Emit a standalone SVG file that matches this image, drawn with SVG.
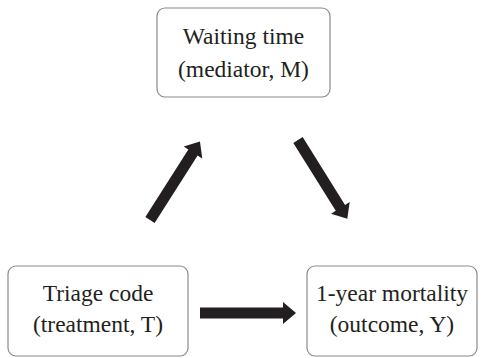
<svg xmlns="http://www.w3.org/2000/svg" width="485" height="358" viewBox="0 0 485 358">
<style>
.box{fill:#fff;stroke:#8a8a8a;stroke-width:1.2}
.t{font-family:'Liberation Serif','Times New Roman',serif;font-size:23.5px;fill:#231f20;text-anchor:middle}
.arr{fill:#231f20}
</style>
<rect width="485" height="358" fill="#fff"/>
<g id="nodeM"><rect class="box" x="157" y="8" width="173" height="89" rx="8"/><text class="t" x="243.5" y="44">Waiting time</text><text class="t" x="243.5" y="77">(mediator, M)</text></g>
<g id="nodeT"><rect class="box" x="8" y="266" width="180" height="90" rx="8"/><text class="t" x="98" y="301">Triage code</text><text class="t" x="98" y="332">(treatment, T)</text></g>
<g id="nodeY"><rect class="box" x="307" y="266" width="170" height="90" rx="8"/><text class="t" x="392" y="301">1-year mortality</text><text class="t" x="392" y="332">(outcome, Y)</text></g>
<g id="connectors">
<polygon class="arr" points="200,307.5 283,307.5 283,302 296,313 283,324 283,318.5 200,318.5"/>
<g transform="translate(150,220) rotate(-57.5)">
<polygon class="arr" points="0,-5.5 80,-5.5 80,-11 93,0 80,11 80,5.5 0,5.5"/>
</g>
<g transform="translate(298,140) rotate(58)">
<polygon class="arr" points="0,-5.5 80,-5.5 80,-11 93,0 80,11 80,5.5 0,5.5"/>
</g>
</g>
</svg>
